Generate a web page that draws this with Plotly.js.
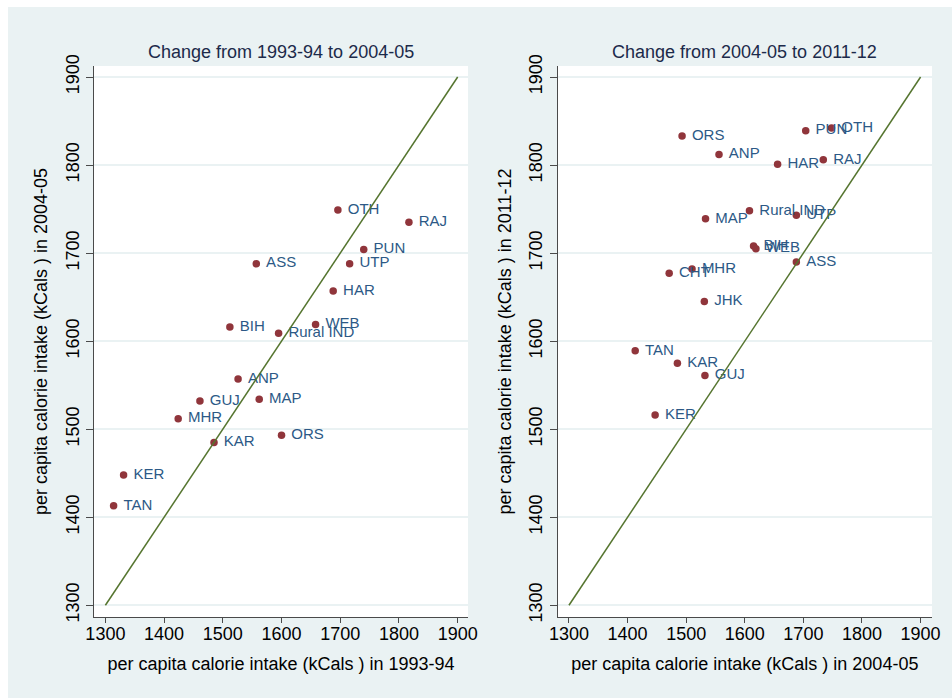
<!DOCTYPE html>
<html>
<head>
<meta charset="utf-8">
<script src="https://cdn.plot.ly/plotly-3.0.1.min.js"></script>
<style>
  html, body { margin: 0; padding: 0; background: #ffffff; }
  #chart { position: absolute; left: 8px; top: 7px; width: 944px; height: 691px; }
</style>
</head>
<body>
<div id="chart"></div>
<script>
// Panel 1: 1993-94 (x) vs 2004-05 (y)
const states1 = ["OTH","RAJ","PUN","UTP","ASS","HAR","BIH","WEB","Rural IND","ANP","GUJ","MAP","MHR","KAR","ORS","KER","TAN"];
const x1993 =   [1696, 1817, 1740, 1716, 1557, 1688, 1512, 1658, 1595, 1526, 1461, 1562, 1424, 1485, 1600, 1331, 1314];
const y2004a =  [1749, 1735, 1704, 1688, 1688, 1657, 1616, 1619, 1609, 1557, 1532, 1534, 1512, 1485, 1493, 1448, 1413];

// Panel 2: 2004-05 (x) vs 2011-12 (y)
const states2 = ["ORS","ANP","PUN","OTH","HAR","RAJ","Rural IND","UTP","MAP","BIH","WEB","ASS","CHT","MHR","JHK","TAN","KAR","GUJ","KER"];
const x2004b =  [1493, 1556, 1704, 1748, 1656, 1734, 1608, 1688, 1533, 1615, 1619, 1688, 1471, 1510, 1531, 1413, 1485, 1532, 1447];
const y2011 =   [1833, 1812, 1839, 1842, 1801, 1806, 1748, 1743, 1739, 1708, 1705, 1690, 1677, 1682, 1645, 1589, 1575, 1561, 1516];

// 45-degree reference line ends
const lineEnds = [1300, 1900];

const ticks = [1300, 1400, 1500, 1600, 1700, 1800, 1900];
const panelTitles = ["Change from 1993-94 to 2004-05", "Change from 2004-05 to 2011-12"];
const xTitles = ["per capita calorie intake (kCals ) in 1993-94", "per capita calorie intake (kCals ) in 2004-05"];
const yTitles = ["per capita calorie intake (kCals ) in 2004-05", "per capita calorie intake (kCals ) in 2011-12"];

const FONT = "Liberation Sans, Arial, Helvetica, sans-serif";
const BG = "#EAF2F3";
const MARKER = "#90353B";
const LABEL = "#2C5986";
const LINE = "#55752F";
const AXIS = "#4a4a4a";

function pts(x, y, t, xa, ya) {
  return {
    type: "scatter", mode: "markers+text",
    x: x, y: y, text: t,
    texttemplate: "\u00a0%{text}",
    textposition: "middle right",
    textfont: {family: FONT, size: 15, color: LABEL},
    marker: {color: MARKER, size: 7.5},
    xaxis: xa, yaxis: ya, hoverinfo: "skip", showlegend: false, cliponaxis: false
  };
}
function diag(xa, ya) {
  return {
    type: "scatter", mode: "lines", x: lineEnds, y: lineEnds,
    line: {color: LINE, width: 1.5},
    xaxis: xa, yaxis: ya, hoverinfo: "skip", showlegend: false
  };
}

const data = [
  pts(x1993, y2004a, states1, "x", "y"),
  pts(x2004b, y2011, states2, "x2", "y2"),
  diag("x", "y"),
  diag("x2", "y2")
];

function xax(domain, range, title, anchor) {
  return {
    domain: domain, range: range, anchor: anchor,
    tickmode: "array", tickvals: ticks, ticktext: ticks.map(String),
    ticks: "outside", ticklen: 5, tickcolor: AXIS, tickwidth: 1,
    ticklabelstandoff: -5,
    showline: true, linecolor: AXIS, linewidth: 1,
    showgrid: false, zeroline: false,
    tickfont: {family: FONT, size: 18, color: "#000"},
    title: {text: title, font: {family: FONT, size: 18, color: "#000"}, standoff: 14}
  };
}
function yax(range, title, anchor) {
  return {
    range: range, anchor: anchor, domain: [0, 1],
    tickmode: "array", tickvals: ticks, ticktext: ticks.map(String),
    tickangle: -90,
    ticks: "outside", ticklen: 7, tickcolor: AXIS, tickwidth: 1,
    showline: true, linecolor: AXIS, linewidth: 1,
    showgrid: true, gridcolor: BG, gridwidth: 2, zeroline: false,
    tickfont: {family: FONT, size: 18, color: "#000"},
    title: {text: title, font: {family: FONT, size: 18, color: "#000"}, standoff: 10}
  };
}

const layout = {
  width: 944, height: 691,
  margin: {l: 86, r: 20, t: 59, b: 81},
  paper_bgcolor: BG, plot_bgcolor: "#ffffff",
  showlegend: false,
  xaxis: xax([0, 0.4463], [1280.6, 1917.6], xTitles[0], "y"),
  yaxis: yax([1286.7, 1912.5], yTitles[0], "x"),
  xaxis2: xax([0.5533, 1], [1280.7, 1919.5], xTitles[1], "y2"),
  yaxis2: yax([1286.7, 1912.5], yTitles[1], "x2"),
  annotations: [
    {text: panelTitles[0], xref: "x domain", yref: "paper", x: 0.5, y: 1.0254,
     xanchor: "center", yanchor: "middle", showarrow: false,
     font: {family: FONT, size: 18, color: "#1c2a4a"}},
    {text: panelTitles[1], xref: "x2 domain", yref: "paper", x: 0.5, y: 1.0254,
     xanchor: "center", yanchor: "middle", showarrow: false,
     font: {family: FONT, size: 18, color: "#1c2a4a"}}
  ]
};

Plotly.newPlot("chart", data, layout, {displayModeBar: false, staticPlot: true});
</script>
</body>
</html>
